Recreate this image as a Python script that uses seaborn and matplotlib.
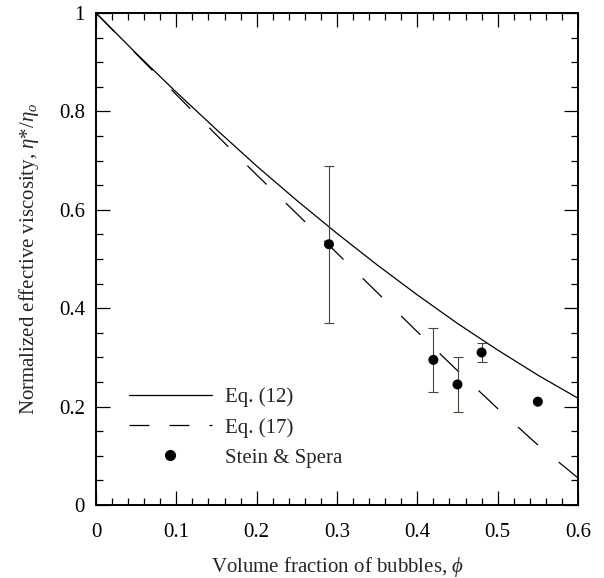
import numpy as np
import pandas as pd
import matplotlib
matplotlib.use('Agg')
import matplotlib.pyplot as plt
import seaborn as sns
from matplotlib.lines import Line2D
from matplotlib.ticker import MultipleLocator

# curve values
phi_curve = [0.0, 0.05, 0.10, 0.15, 0.20, 0.25, 0.30, 0.35, 0.40, 0.45, 0.50, 0.55, 0.60]
eq12 = [1.0, 0.918, 0.839, 0.763, 0.689, 0.619, 0.552, 0.488, 0.427, 0.369, 0.315, 0.264, 0.217]
eq17 = [1.0, 0.917, 0.834, 0.752, 0.671, 0.592, 0.512, 0.432, 0.352, 0.273, 0.196, 0.122, 0.055]

# Stein & Spera data
phi_pts = [0.29, 0.42, 0.45, 0.48, 0.55]
eta_pts = [0.53, 0.295, 0.245, 0.31, 0.21]
eta_low = [0.37, 0.23, 0.19, 0.29, np.nan]
eta_high = [0.69, 0.36, 0.30, 0.33, np.nan]

x_ticks = [0, 0.1, 0.2, 0.3, 0.4, 0.5, 0.6]
x_labels = ['0', '0.1', '0.2', '0.3', '0.4', '0.5', '0.6']
y_ticks = [0, 0.2, 0.4, 0.6, 0.8, 1.0]
y_labels = ['0', '0.2', '0.4', '0.6', '0.8', '1']


def main():
    sns.set_theme(style='ticks')
    plt.rcParams['font.family'] = ['Liberation Serif', 'DejaVu Serif']
    plt.rcParams['mathtext.fontset'] = 'custom'
    plt.rcParams['mathtext.rm'] = 'Liberation Serif'
    plt.rcParams['mathtext.it'] = 'Liberation Serif:italic'
    plt.rcParams['mathtext.fallback'] = 'cm'

    curves = pd.DataFrame({'phi': phi_curve, 'eq12': eq12, 'eq17': eq17})
    pts = pd.DataFrame({'phi': phi_pts, 'eta': eta_pts, 'lo': eta_low, 'hi': eta_high})

    fig = plt.figure(figsize=(6.04, 5.78), dpi=100)
    ax = fig.add_axes([96 / 604, 1 - 505 / 578, 482 / 604, 492 / 578])

    sns.lineplot(x='phi', y='eq12', data=curves, ax=ax, color='black', linewidth=0.9)
    sns.lineplot(x='phi', y='eq17', data=curves, ax=ax, color='black', linewidth=0.9)
    ax.lines[-1].set_dashes((21.5, 21.5))

    eb = pts.dropna()
    ax.errorbar(eb['phi'], eb['eta'], yerr=[eb['eta'] - eb['lo'], eb['hi'] - eb['eta']],
                fmt='none', ecolor='#3f4a35', elinewidth=0.8, capsize=3.6,
                capthick=0.8, zorder=2)
    sns.scatterplot(x='phi', y='eta', data=pts, ax=ax, color='black', s=52,
                    edgecolor='none', zorder=3)

    ax.set_xlim(0, 0.6)
    ax.set_ylim(0, 1)
    ax.set_xticks(x_ticks)
    ax.set_xticklabels(x_labels)
    ax.set_yticks(y_ticks)
    ax.set_yticklabels(y_labels)
    ax.xaxis.set_minor_locator(MultipleLocator(0.02))
    ax.yaxis.set_minor_locator(MultipleLocator(0.05))
    ax.tick_params(which='both', direction='in', top=True, right=True,
                   labelsize=15, width=0.9, color='black', labelcolor='black')
    ax.tick_params(which='major', length=10)
    ax.tick_params(which='minor', length=5)
    ax.tick_params(axis='x', pad=13)
    ax.tick_params(axis='y', pad=8)
    for s in ax.spines.values():
        s.set_linewidth(1.4)
        s.set_color('black')

    ax.set_xlabel(r'Volume fraction of bubbles, $\phi$', fontsize=15, labelpad=9)
    ax.set_ylabel(r'Normalized effective viscosity, $\eta$*/$\eta_o$', fontsize=15, labelpad=13)

    handles = [
        Line2D([], [], color='black', linewidth=0.9),
        Line2D([], [], color='black', linewidth=0.9, dashes=(16, 16)),
        Line2D([], [], color='black', marker='o', linestyle='none', markersize=7),
    ]
    ax.legend(handles, ['Eq. (12)', 'Eq. (17)', 'Stein & Spera'], loc='lower left',
              bbox_to_anchor=(0.068, 0.076), frameon=False, fontsize=15,
              handlelength=4.0, handletextpad=0.6, labelspacing=0.5,
              borderpad=0, borderaxespad=0)

    fig.savefig('out.png', dpi=100)
    plt.close(fig)


if __name__ == "__main__":
    main()
